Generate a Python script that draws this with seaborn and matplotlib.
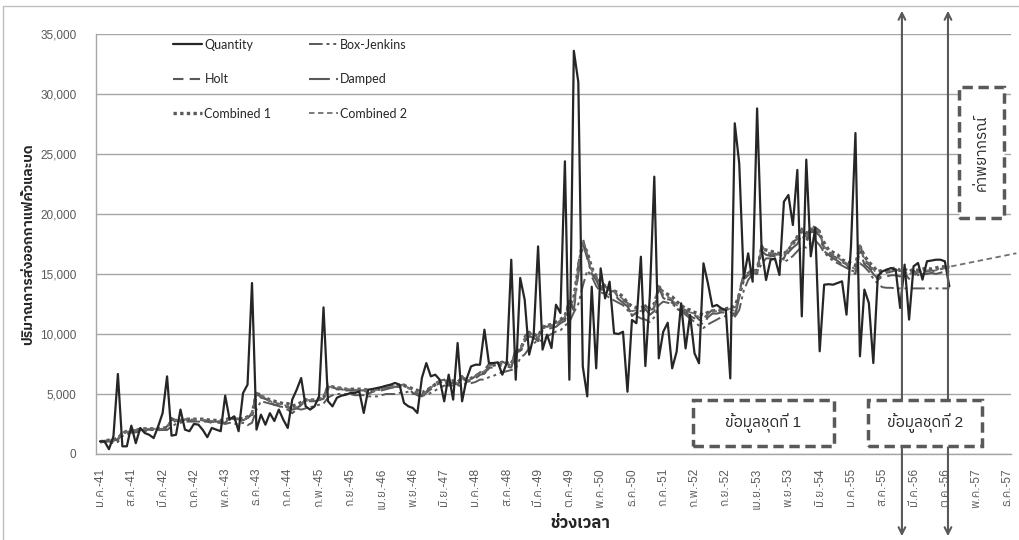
import numpy as np
import pandas as pd
import matplotlib
matplotlib.use("Agg")
import matplotlib.pyplot as plt
import seaborn as sns
from matplotlib import font_manager as fm
from matplotlib import transforms
from matplotlib.patches import Rectangle, FancyArrowPatch

# ---------------- data ----------------
tick_labels = ["ม.ค.-41", "ส.ค.-41", "มี.ค.-42", "ต.ค.-42", "พ.ค.-43", "ธ.ค.-43",
               "ก.ค.-44", "ก.พ.-45", "ก.ย.-45", "เม.ย.-46", "พ.ย.-46", "มิ.ย.-47",
               "ม.ค.-48", "ส.ค.-48", "มี.ค.-49", "ต.ค.-49", "พ.ค.-50", "ธ.ค.-50",
               "ก.ค.-51", "ก.พ.-52", "ก.ย.-52", "เม.ย.-53", "พ.ย.-53", "มิ.ย.-54",
               "ม.ค.-55", "ส.ค.-55", "มี.ค.-56", "ต.ค.-56", "พ.ค.-57", "ธ.ค.-57"]

quantity = [
    1050, 1050, 400, 1470, 6670, 640, 640, 2360, 900, 2170,
    1750, 1600, 1330, 2300, 3400, 6470, 1530, 1600, 3700, 2030,
    1900, 2500, 2450, 2000, 1400, 2170, 2030, 1900, 4860, 2860,
    3140, 1900, 5080, 5780, 14250, 2030, 3280, 2440, 3400, 2750,
    3700, 2860, 2170, 4530, 5360, 6330, 3970, 3700, 3970, 4800,
    12220, 4400, 3970, 4690, 4860, 4940, 5080, 5080, 5220, 3420,
    5360, 5420, 5500, 5580, 5690, 5780, 5920, 5780, 4250, 3970,
    3830, 3420, 6330, 7580, 6470, 6610, 6190, 4390, 6610, 4530,
    9250, 4390, 6250, 7300, 7440, 7440, 10360, 7580, 7580, 7640,
    6610, 7580, 16190, 6190, 14670, 12860, 8280, 9800, 17300, 8700,
    9940, 8830, 12440, 11750, 24390, 6190, 33600, 31000, 7300, 4800,
    13940, 7140, 15470, 12970, 14360, 10060, 10000, 10190, 5190, 11170,
    10900, 16440, 7330, 13200, 23110, 7970, 10190, 10940, 7140, 8530,
    12560, 8800, 11580, 8390, 7560, 15890, 14220, 12280, 12420, 12140,
    12000, 6300, 27560, 24220, 14640, 16720, 14360, 28800, 17140, 14500,
    16170, 16300, 14920, 21030, 21580, 19080, 23670, 11470, 24530, 16470,
    18830, 8560, 14110, 14150, 14110, 14250, 14390, 11610, 17300, 26750,
    8140, 13700, 12580, 7580, 14800, 15220, 15360, 15500, 15360, 12170,
    15780, 11200, 15640, 15920, 14530, 16060, 16120, 16190, 16190, 16060,
    13970]

box_jenkins = [
    1000, 1000, 1050, 900, 1000, 1500, 1600, 1800, 1800, 1900,
    1900, 2000, 2000, 2000, 2000, 2000, 2300, 2500, 2600, 2700,
    2700, 2700, 2700, 2700, 2700, 2700, 2600, 2600, 2500, 2600,
    2500, 2500, 2600, 2400, 2600, 3700, 4400, 4300, 4200, 4100,
    4000, 3900, 3900, 3800, 3800, 3700, 3800, 3900, 4000, 4100,
    4200, 4700, 4900, 5000, 5000, 5000, 5000, 4900, 4900, 4900,
    4800, 4800, 4800, 4900, 5000, 5000, 5000, 5100, 5100, 5200,
    5000, 5000, 4900, 4900, 5100, 5300, 5500, 5700, 5700, 5700,
    5700, 5700, 5900, 5900, 6000, 6200, 6200, 6400, 6500, 6700,
    6800, 6900, 7000, 7100, 8000, 8300, 8800, 9200, 9500, 9400,
    9800, 10000, 10200, 10300, 10700, 11000, 11800, 12500, 14000, 15300,
    14800, 14000, 13500, 13300, 13000, 12800, 12600, 12400, 12000, 11600,
    11500, 11300, 11200, 11000, 11400, 12400, 12700, 12600, 12500, 12200,
    11900, 11600, 11300, 11000, 10700, 10500, 10800, 11000, 11200, 11400,
    11500, 11600, 11400, 12000, 13600, 14500, 15000, 15200, 15800, 16300,
    16300, 16200, 16100, 16000, 16200, 16500, 16900, 17300, 17200, 17600,
    17800, 17400, 16800, 16400, 16100, 15900, 15700, 15500, 15300, 15200,
    15900, 15600, 15200, 14600, 14200, 13900, 13850, 13850, 13800, 13800,
    13800, 13800, 13800, 13800, 13800, 13800, 13800, 13800, 13800, 13800,
    13800]

holt = [
    1000, 1050, 1100, 1000, 1150, 1900, 1800, 1800, 2000, 1900,
    2050, 2050, 2000, 1950, 2050, 2300, 3000, 2800, 2700, 2900,
    2800, 2800, 2850, 2800, 2700, 2600, 2650, 2650, 2600, 3000,
    2900, 2900, 2700, 3000, 3400, 5300, 4800, 4600, 4300, 4100,
    4000, 3800, 3700, 3400, 3700, 4100, 4600, 4400, 4400, 4500,
    4700, 5800, 5600, 5400, 5400, 5300, 5300, 5300, 5300, 5300,
    5000, 5200, 5300, 5400, 5500, 5600, 5700, 5700, 5800, 5400,
    5100, 4900, 4700, 5200, 5600, 5900, 6100, 6200, 5800, 6000,
    5800, 6500, 6000, 6200, 6500, 6800, 7000, 7500, 7500, 7600,
    7700, 7500, 7300, 8800, 8600, 9800, 10200, 9800, 9600, 10700,
    10600, 10700, 10700, 11100, 11300, 13000, 12000, 15800, 18000, 16500,
    15000, 14800, 13800, 14000, 13500, 13600, 13000, 12800, 12600, 11500,
    11800, 11600, 12400, 11900, 12200, 14300, 13000, 12900, 12800, 12200,
    12000, 12000, 11700, 11600, 11200, 11000, 11700, 12000, 11900, 12000,
    12000, 12100, 11500, 13500, 15000, 15100, 15400, 15200, 17400, 16800,
    16600, 16700, 16500, 16300, 17200, 17700, 17900, 18800, 17800, 19000,
    18900, 18600, 17000, 16800, 16500, 16300, 16000, 15800, 15300, 15200,
    17600, 16000, 15800, 15200, 14500, 15000, 15100, 15200, 15300, 15100,
    15000, 14600, 15300, 14900, 15200, 15200, 15300, 15200, 15400, 15500,
    15500]

damped = [
    1000, 1100, 1100, 1100, 1250, 1800, 1850, 1900, 1950, 2000,
    2000, 2050, 2050, 2050, 2100, 2250, 2850, 2800, 2750, 2850,
    2850, 2850, 2850, 2850, 2750, 2700, 2700, 2700, 2700, 2950,
    2950, 2950, 2800, 3000, 3300, 5100, 4700, 4600, 4400, 4200,
    4150, 4000, 3900, 3700, 3800, 4100, 4400, 4400, 4400, 4500,
    4600, 5600, 5500, 5400, 5400, 5300, 5300, 5300, 5300, 5300,
    5100, 5200, 5300, 5300, 5400, 5500, 5600, 5600, 5700, 5500,
    5200, 5000, 4800, 5100, 5400, 5700, 5900, 6000, 5800, 5900,
    5800, 6300, 6000, 6100, 6300, 6600, 6700, 7200, 7200, 7300,
    7400, 7300, 7200, 8500, 8400, 9400, 9800, 9700, 9400, 10300,
    10400, 10500, 10600, 10900, 11100, 12600, 12000, 15000, 17600, 16300,
    15000, 14500, 13700, 13700, 13300, 13300, 12900, 12600, 12300, 11600,
    11700, 11500, 12100, 11600, 11900, 13900, 13000, 12800, 12600, 12100,
    11900, 11800, 11500, 11300, 11000, 10800, 11400, 11700, 11700, 11800,
    11800, 11900, 11300, 13100, 14600, 14900, 15100, 15000, 16900, 16600,
    16500, 16500, 16400, 16200, 16800, 17200, 17500, 18300, 17600, 18500,
    18500, 18200, 16900, 16600, 16300, 16100, 15800, 15600, 15200, 15000,
    17000, 15800, 15500, 15000, 14500, 14800, 14800, 14900, 14900, 14800,
    14900, 14800, 15000, 14900, 15000, 15000, 15100, 15000, 15100, 15200,
    15200]

combined_1 = [
    1000, 1100, 1150, 1200, 1300, 1700, 1900, 2000, 2000, 2050,
    2100, 2100, 2100, 2100, 2150, 2200, 2700, 2800, 2800, 2900,
    2900, 2900, 2900, 2900, 2850, 2800, 2800, 2800, 2800, 3000,
    3000, 3000, 2900, 3100, 3300, 5000, 4800, 4700, 4500, 4400,
    4300, 4200, 4200, 4000, 4100, 4300, 4500, 4500, 4500, 4600,
    4700, 5500, 5600, 5500, 5500, 5400, 5400, 5400, 5400, 5400,
    5300, 5300, 5400, 5400, 5500, 5600, 5600, 5700, 5700, 5600,
    5400, 5300, 5100, 5300, 5500, 5800, 6000, 6100, 6000, 6100,
    6000, 6300, 6200, 6300, 6500, 6700, 6800, 7200, 7400, 7500,
    7600, 7600, 7500, 8400, 8700, 9500, 10000, 10000, 9800, 10500,
    10700, 10800, 11000, 11200, 11500, 12500, 13000, 15500, 17500, 16800,
    15500, 14800, 14300, 14000, 13700, 13600, 13400, 13100, 12600, 12300,
    12200, 12200, 12300, 12200, 12500, 13800, 13500, 13300, 13100, 12700,
    12400, 12100, 12000, 11800, 11700, 11600, 11800, 11900, 12000, 12000,
    12100, 12200, 12300, 13200, 14600, 15000, 15200, 15300, 17100, 17000,
    16900, 16800, 16700, 16700, 17000, 17500, 18100, 18600, 18400, 18600,
    18800, 18300, 17600, 17000, 16800, 16600, 16200, 16000, 15900, 15700,
    17300, 16500, 16000, 15600, 15200, 15300, 15300, 15400, 15500, 15300,
    15400, 15200, 15400, 15300, 15400, 15500, 15400, 15500, 15600, 15600,
    15700]

combined_2 = [
    1000, 1080, 1120, 1150, 1250, 1750, 1850, 1950, 2000, 2000,
    2050, 2100, 2100, 2050, 2100, 2250, 2800, 2800, 2750, 2900,
    2900, 2850, 2850, 2850, 2800, 2750, 2750, 2750, 2700, 3000,
    2950, 2950, 2800, 3050, 3350, 5100, 4800, 4700, 4400, 4300,
    4200, 4100, 4000, 3800, 3900, 4200, 4500, 4500, 4500, 4600,
    4700, 5600, 5600, 5500, 5500, 5400, 5400, 5350, 5350, 5350,
    5200, 5250, 5350, 5400, 5500, 5600, 5650, 5700, 5750, 5500,
    5300, 5100, 4900, 5200, 5500, 5850, 6050, 6150, 5900, 6050,
    5900, 6400, 6100, 6250, 6500, 6750, 6900, 7350, 7450, 7550,
    7650, 7550, 7400, 8600, 8650, 9650, 10100, 9900, 9700, 10600,
    10650, 10750, 10850, 11150, 11400, 12800, 12500, 15600, 17800, 16700,
    15300, 14800, 14000, 14000, 13600, 13600, 13200, 12900, 12600, 11900,
    12000, 11900, 12300, 12000, 12300, 14000, 13300, 13100, 12900, 12400,
    12200, 12000, 11800, 11700, 11400, 11300, 11700, 11900, 11900, 12000,
    12000, 12100, 11900, 13300, 14800, 15000, 15300, 15200, 17200, 16900,
    16700, 16700, 16600, 16500, 17100, 17600, 18000, 18700, 18100, 18800,
    18800, 18400, 17300, 16900, 16600, 16400, 16100, 15900, 15600, 15400,
    17400, 16200, 15900, 15400, 14900, 15100, 15200, 15300, 15400, 15200,
    15200, 14900, 15300, 15100, 15300, 15300, 15300, 15300, 15500, 15500,
    15600,
    # forecast
    15680, 15750, 15830, 15900, 15980, 16050, 16130, 16200, 16280, 16350,
    16430, 16500, 16580, 16650, 16730]

split_months = [179.4, 189.7]   # boundaries of data set 2 (month index)

# ---------------- fonts ----------------
def find_thai_family():
    try:
        from fontTools.ttLib import TTFont
    except Exception:
        return None
    best = None
    for f in fm.fontManager.ttflist:
        try:
            tt = TTFont(f.fname, fontNumber=0, lazy=True)
            cm = tt.getBestCmap()
            if cm and all(c in cm for c in (0x0E01, 0x0E48, 0x0E38, 0x0E4C)):
                if best is None or "Sans" in f.name:
                    best = f.name
                    if "Sans" in f.name:
                        break
        except Exception:
            continue
    return best

sns.set_theme(style="white")
thai = find_thai_family()
fam_main = ["Liberation Sans"] + ([thai] if thai else []) + ["DejaVu Sans"]
fam_leg = ["Lato", "DejaVu Sans"]
plt.rcParams["font.family"] = fam_main

W, H = 1019, 540
fig = plt.figure(figsize=(W / 100, H / 100), dpi=100)
fig.patch.set_facecolor("white")
ax = fig.add_axes([96 / W, 86 / H, 915 / W, 420 / H])
ax.set_facecolor("white")

months = np.arange(len(quantity))
df = pd.DataFrame({"m": months, "q": quantity, "bj": box_jenkins, "h": holt,
                   "d": damped, "c1": combined_1, "c2": combined_2[:len(quantity)]})
m2 = np.arange(len(combined_2))

fc = "#595959"
sns.lineplot(data=df, x="m", y="bj", ax=ax, color=fc, lw=1.4,
             linestyle=(0, (7, 2, 1.5, 2, 1.5, 2)), label="Box-Jenkins", zorder=2)
sns.lineplot(data=df, x="m", y="h", ax=ax, color=fc, lw=1.5,
             linestyle=(0, (5, 3)), label="Holt", zorder=2)
sns.lineplot(data=df, x="m", y="d", ax=ax, color=fc, lw=1.5,
             linestyle=(0, (10, 3, 1.5, 3)), label="Damped", zorder=2)
sns.lineplot(data=df, x="m", y="c1", ax=ax, color=fc, lw=2.4,
             linestyle=(0, (1, 1)), label="Combined 1", zorder=2)
sns.lineplot(x=m2, y=combined_2, ax=ax, color="#6f6f6f", lw=1.3,
             linestyle=(0, (3, 2)), label="Combined 2", zorder=2, clip_on=False)
sns.lineplot(data=df, x="m", y="q", ax=ax, color="#262626", lw=1.6,
             label="Quantity", zorder=3)

ax.set_xlim(-0.9, 203.8)
ax.set_ylim(0, 35000)
ax.set_yticks(np.arange(0, 35001, 5000))
ax.set_yticklabels([f"{v:,}" for v in range(0, 35001, 5000)])
ax.set_xticks(np.arange(0, 7 * len(tick_labels), 7))
ax.set_xticklabels(tick_labels, rotation=90)
ax.tick_params(axis="y", length=0, pad=14, labelsize=8.5, labelcolor="#595959")
ax.tick_params(axis="x", length=0, pad=10, labelsize=8.5, labelcolor="#595959")
ax.grid(axis="y", color="#a6a6a6", lw=1)
ax.grid(axis="x", visible=False)
for s in ["top", "right"]:
    ax.spines[s].set_visible(False)
for s in ["left", "bottom"]:
    ax.spines[s].set_color("#a6a6a6")
    ax.spines[s].set_linewidth(1)
ax.set_xlabel("")
ax.set_ylabel("")

# legend
hmap = {l.get_label(): l for l in ax.get_lines()}
order = ["Quantity", "Holt", "Combined 1", "Box-Jenkins", "Damped", "Combined 2"]
ax.legend([hmap[k] for k in order], order, ncol=2, loc="upper left",
          bbox_to_anchor=(0.072, 1.016), frameon=False,
          prop={"family": fam_leg, "size": 9}, handlelength=2.3,
          handletextpad=0.2, labelspacing=1.8, columnspacing=3.0)

# axis titles
fig.text(28 / W, 1 - 244 / H, "ปริมาณการส่งออกกาแฟคั่วและบด", rotation=90,
         ha="center", va="center", fontsize=10, fontweight="bold", color="#262626")
fig.text(580 / W, 1 - 523 / H, "ช่วงเวลา", ha="center", va="center",
         fontsize=12, fontweight="bold", color="#262626")

# chart border (left / top)
fig.add_artist(plt.Line2D([3 / W, 3 / W], [0, 1 - 6 / H], transform=fig.transFigure,
                          color="#bfbfbf", lw=1))
fig.add_artist(plt.Line2D([3 / W, 1], [1 - 6 / H, 1 - 6 / H], transform=fig.transFigure,
                          color="#bfbfbf", lw=1))

# arrows
blend = transforms.blended_transform_factory(ax.transData, fig.transFigure)
for xm in split_months:
    arr = FancyArrowPatch((xm, 1 - 8 / H), (xm, 1 - 539 / H), transform=blend,
                          arrowstyle="<->", mutation_scale=12, color="#595959",
                          lw=1.5, zorder=4)
    fig.add_artist(arr)

# boxes
def box(x0, y0, x1, y1, text, rot=0, fs=11):
    r = Rectangle((x0 / W, 1 - y1 / H), (x1 - x0) / W, (y1 - y0) / H,
                  transform=fig.transFigure, facecolor="white", edgecolor="#595959",
                  lw=2.5, linestyle=(0, (3, 1.6)), zorder=5)
    fig.add_artist(r)
    fig.text((x0 + x1) / 2 / W, 1 - (y0 + y1) / 2 / H, text, rotation=rot,
             ha="center", va="center", fontsize=fs, color="#262626", zorder=6)

box(693, 400, 834, 446, "ข้อมูลชุดที่ 1")
box(868, 400, 982, 446, "ข้อมูลชุดที่ 2")
box(959, 87, 1004, 218, "ค่าพยากรณ์", rot=90)

fig.savefig("out.png", dpi=100, facecolor="white")
